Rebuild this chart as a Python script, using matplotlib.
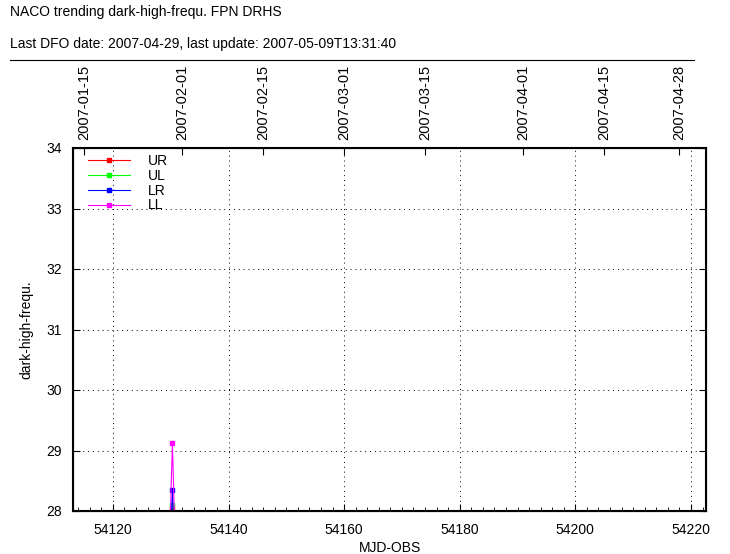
import matplotlib
matplotlib.use("Agg")
import matplotlib.pyplot as plt
from matplotlib.ticker import MultipleLocator

# data
mjd = [54129.6, 54130.3, 54131.0]
ur = [26.5, 28.05, 26.5]
ul = [26.6, 28.1, 26.4]
lr = [26.7, 28.35, 26.3]
ll = [26.8, 29.12, 26.6]

date_labels = ["2007-01-15", "2007-02-01", "2007-02-15", "2007-03-01",
               "2007-03-15", "2007-04-01", "2007-04-15", "2007-04-28"]
date_mjd = [54115, 54132, 54146, 54160, 54174, 54191, 54205, 54218]

plt.rcParams["font.family"] = ["Liberation Sans", "DejaVu Sans"]

fig = plt.figure(figsize=(7.30, 5.54), dpi=100)
ax = fig.add_axes([73 / 730, 43 / 554, 633 / 730, 363 / 554])

series = [("UR", ur, "#ff0000"), ("UL", ul, "#00ff00"),
          ("LR", lr, "#0000ff"), ("LL", ll, "#ff00ff")]
for name, vals, col in series:
    ax.plot(mjd, vals, color=col, lw=0.8, marker="s", ms=2.5,
            markevery=[1], label=name)

ax.set_xlim(54113.1, 54222.6)
ax.set_ylim(28, 34)
ax.xaxis.set_major_locator(MultipleLocator(20))
ax.xaxis.set_minor_locator(MultipleLocator(2))
ax.yaxis.set_major_locator(MultipleLocator(1))
ax.tick_params(axis="both", labelsize=10, direction="in", length=5, width=0.8)
ax.tick_params(axis="x", which="minor", direction="in", length=3)
ax.tick_params(axis="x", pad=9)
ax.tick_params(axis="y", right=True, pad=8)
ax.grid(True, which="major", linestyle=(0, (1, 4)), color="black", lw=0.7)
for s in ax.spines.values():
    s.set_linewidth(1.5)
ax.set_xlabel("MJD-OBS", fontsize=10)
ax.xaxis.set_label_coords(0.5, -(548 - 511) / 363)
ax.xaxis.label.set_verticalalignment("center")
ax.set_ylabel("dark-high-frequ.", fontsize=10, labelpad=9)

top = ax.twiny()
top.set_xlim(ax.get_xlim())
top.set_xticks(date_mjd)
top.set_xticklabels(date_labels, rotation=90, fontsize=10.5)
top.tick_params(axis="x", direction="in", length=5, width=0.8, pad=6)

leg = ax.legend(loc="upper left", bbox_to_anchor=(0, 1 + 9 / 363),
                frameon=False, fontsize=10, handlelength=3.0,
                handletextpad=1.3, labelspacing=0.05, borderaxespad=0.8,
                borderpad=0.3)

fig.text(10 / 730, 1 - 12 / 554, "NACO trending dark-high-frequ. FPN DRHS",
         fontsize=10, va="center")
fig.text(10 / 730, 1 - 44 / 554,
         "Last DFO date: 2007-04-29, last update: 2007-05-09T13:31:40",
         fontsize=10, va="center")
fig.add_artist(plt.Line2D([10 / 730, 694 / 730], [1 - 60 / 554, 1 - 60 / 554],
                          color="black", lw=0.8))

fig.savefig("out.png", dpi=100)
